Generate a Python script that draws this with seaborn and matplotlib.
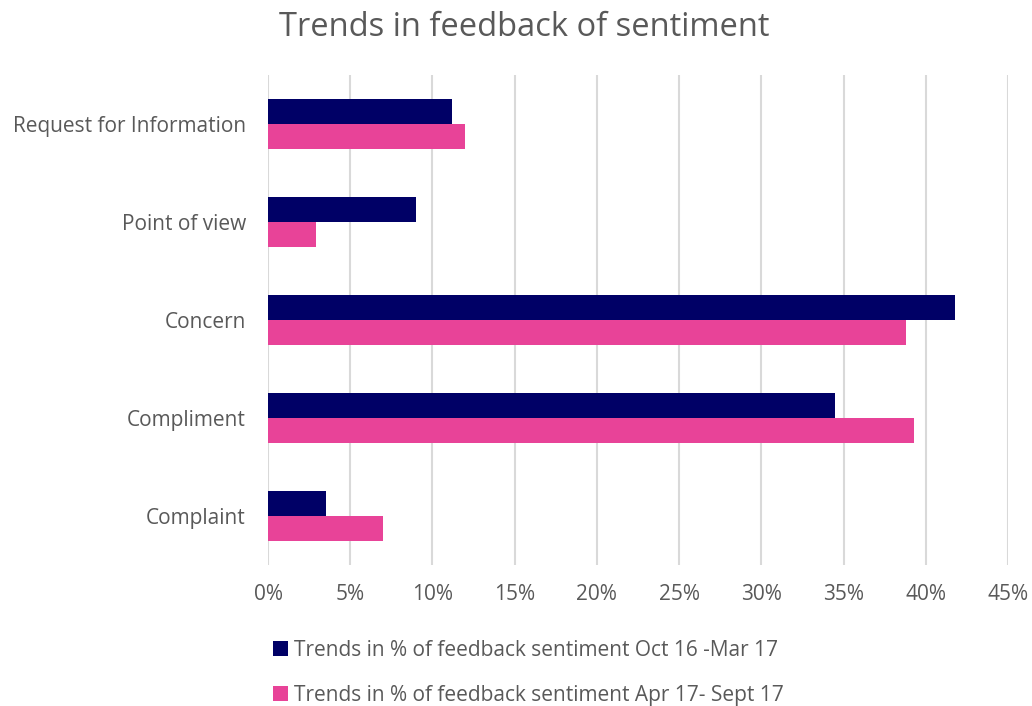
import pandas as pd
import seaborn as sns
import matplotlib.pyplot as plt
from matplotlib.ticker import PercentFormatter

# data
categories = ["Request for Information", "Point of view", "Concern", "Compliment", "Complaint"]
oct16_mar17 = [11.2, 9.0, 41.8, 34.5, 3.5]
apr17_sep17 = [12.0, 2.9, 38.8, 39.3, 7.0]
series_names = ["Trends in % of feedback sentiment Oct 16 -Mar 17",
                "Trends in % of feedback sentiment Apr 17- Sept 17"]
x_ticks = [0, 5, 10, 15, 20, 25, 30, 35, 40, 45]

df = pd.DataFrame({
    "category": categories * 2,
    "value": oct16_mar17 + apr17_sep17,
    "series": [series_names[0]] * len(categories) + [series_names[1]] * len(categories),
})

sns.set_style("white")
plt.rcParams['font.family'] = ['Open Sans', 'DejaVu Sans']
text_col = '#595959'

fig = plt.figure(figsize=(10.32, 7.06), dpi=100)
ax = fig.add_axes([0.2597, 0.1997, 0.717, 0.694])

sns.barplot(data=df, y="category", x="value", hue="series", order=categories,
            hue_order=series_names, palette=['#000066', '#E84398'],
            width=0.51, orient='h', saturation=1, linewidth=0, ax=ax, legend=True, zorder=3)

ax.set_xlim(0, 45)
ax.set_ylim(4.5, -0.5)
ax.set_xticks(x_ticks)
ax.xaxis.set_major_formatter(PercentFormatter(decimals=0))
ax.grid(axis='x', color='#D9D9D9', linewidth=1.5, zorder=0)
ax.grid(axis='y', visible=False)
ax.set_axisbelow(True)
for s in ax.spines.values():
    s.set_visible(False)
ax.tick_params(axis='both', length=0, labelsize=15, labelcolor=text_col)
ax.tick_params(axis='x', pad=14)
ax.tick_params(axis='y', pad=16)
ax.set_xlabel("")
ax.set_ylabel("")

handles, labels = ax.get_legend_handles_labels()
ax.get_legend().remove()
fig.legend(handles, labels, loc='upper left', bbox_to_anchor=(0.246, 0.12),
           frameon=False, fontsize=15, labelcolor=text_col, ncol=1,
           handlelength=0.75, handleheight=0.75, handletextpad=0.3, labelspacing=1.15)

fig.suptitle("Trends in feedback of sentiment", x=0.508, y=0.985, fontsize=23.5, color=text_col)

plt.savefig("out.png", dpi=100)
